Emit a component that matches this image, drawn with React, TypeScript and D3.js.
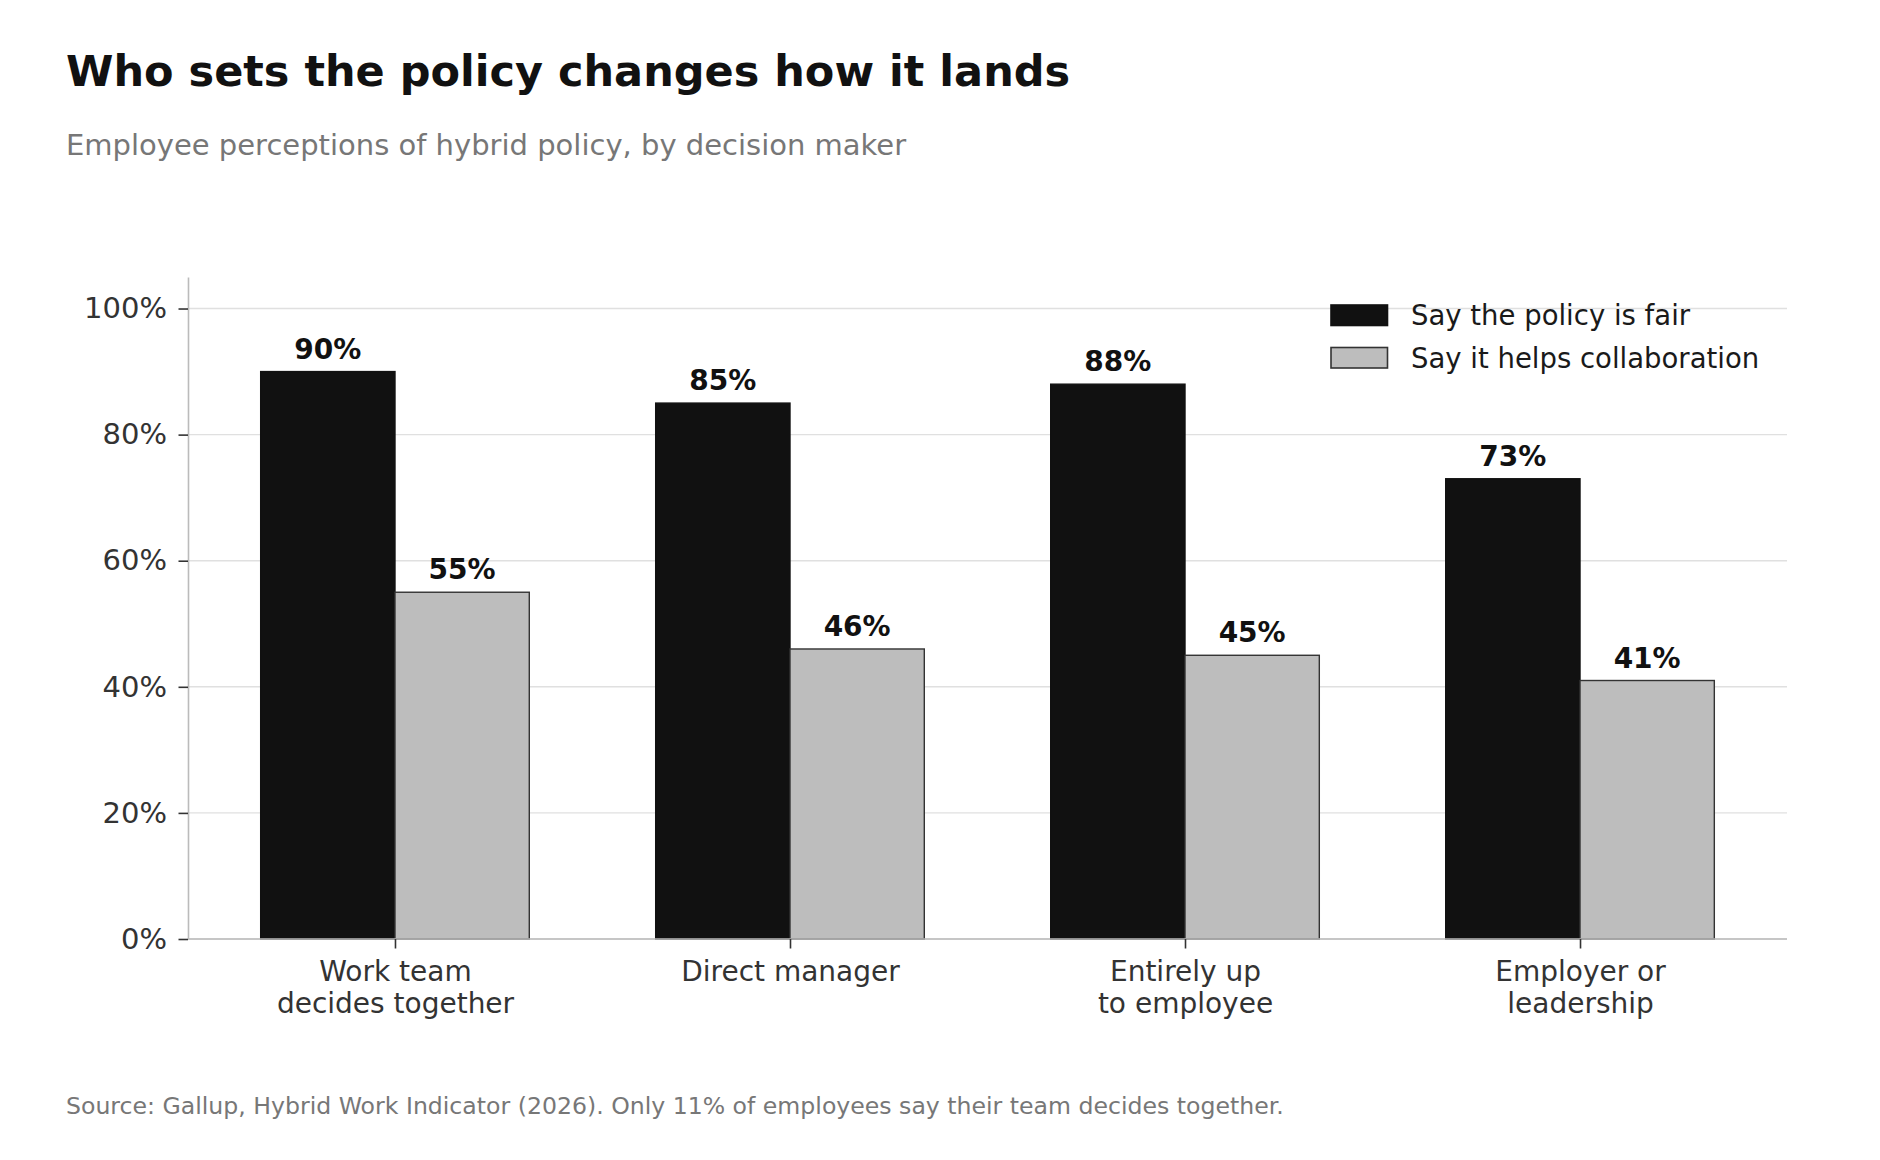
import React, { useEffect, useRef } from 'react';
import * as d3 from 'd3';

// Chart data
const categories = ['Work team\ndecides together', 'Direct manager', 'Entirely up\nto employee', 'Employer or\nleadership'];
const seriesNames = ['Say the policy is fair', 'Say it helps collaboration'];
const fairValues = [90, 85, 88, 73];
const collabValues = [55, 46, 45, 41];
const yTicks = [0, 20, 40, 60, 80, 100];

const W = 1880, H = 1160;
const margin = { top: 277, right: 93, bottom: 221, left: 188 };
const FONT = "'DejaVu Sans', sans-serif";

const App = () => {
  const ref = useRef<SVGSVGElement | null>(null);

  useEffect(() => {
    if (!ref.current) return;
    const svg = d3.select(ref.current);
    svg.selectAll('*').remove();

    const x = d3.scaleBand<number>()
      .domain(categories.map((_, i) => i))
      .range([margin.left, W - margin.right])
      .paddingInner(0.32)
      .paddingOuter(0.184);
    const xs = d3.scaleBand<number>().domain([0, 1]).range([0, x.bandwidth()]);
    const y = d3.scaleLinear().domain([0, 105]).range([H - margin.bottom, margin.top]);

    // title + subtitle
    svg.append('text').attr('x', 66).attr('y', 85.5)
      .attr('font-family', FONT).attr('font-weight', 'bold').attr('font-size', 43).attr('fill', '#111')
      .text('Who sets the policy changes how it lands');
    svg.append('text').attr('x', 66).attr('y', 155)
      .attr('font-family', FONT).attr('font-size', 29).attr('fill', '#777')
      .text('Employee perceptions of hybrid policy, by decision maker');

    // gridlines
    svg.append('g').selectAll('line').data(yTicks).join('line')
      .attr('x1', margin.left).attr('x2', W - margin.right)
      .attr('y1', d => y(d)).attr('y2', d => y(d))
      .attr('stroke', '#e0e0e0').attr('stroke-width', 1.4);

    // bars
    const series = [fairValues, collabValues];
    const fills = ['#111111', '#bdbdbd'];
    series.forEach((vals, s) => {
      svg.append('g').selectAll('rect').data(vals).join('rect')
        .attr('x', (_, i) => x(i)! + xs(s)!)
        .attr('y', d => y(d))
        .attr('width', xs.bandwidth())
        .attr('height', d => y(0) - y(d))
        .attr('fill', fills[s])
        .attr('stroke', s === 0 ? '#111111' : '#333333')
        .attr('stroke-width', 1.4);
      svg.append('g').selectAll('text').data(vals).join('text')
        .attr('x', (_, i) => x(i)! + xs(s)! + xs.bandwidth() / 2)
        .attr('y', d => y(d) - 13)
        .attr('text-anchor', 'middle')
        .attr('font-family', FONT).attr('font-weight', 'bold').attr('font-size', 28).attr('fill', '#111')
        .text(d => `${d}%`);
    });

    // y axis
    const yAxis = svg.append('g').attr('transform', `translate(${margin.left},0)`)
      .call(d3.axisLeft(y).tickValues(yTicks).tickFormat(d => `${d}%`).tickSize(9.5).tickSizeOuter(0).tickPadding(11.5));
    yAxis.select('.domain').attr('stroke', '#bbbbbb').attr('stroke-width', 1.6);
    yAxis.selectAll('.tick line').attr('stroke', '#333').attr('stroke-width', 1.6);
    yAxis.selectAll('.tick text').attr('font-family', FONT).attr('font-size', 29).attr('fill', '#333');

    // x axis
    const xAxis = svg.append('g').attr('transform', `translate(0,${H - margin.bottom})`)
      .call(d3.axisBottom(d3.scalePoint<number>().domain(categories.map((_, i) => i)).range([x(0)! + x.bandwidth() / 2, x(3)! + x.bandwidth() / 2]))
        .tickSize(9.5).tickSizeOuter(0).tickFormat(() => ''));
    xAxis.select('.domain').attr('d', `M${margin.left},0H${W - margin.right}`)
      .attr('stroke', '#bbbbbb').attr('stroke-width', 1.6);
    xAxis.selectAll('.tick line').attr('stroke', '#333').attr('stroke-width', 1.6);
    xAxis.selectAll<SVGTextElement, number>('.tick text').each(function (d) {
      const t = d3.select(this).attr('y', 42).attr('dy', null)
        .attr('font-family', FONT).attr('font-size', 28).attr('fill', '#333');
      categories[d].split('\n').forEach((line, k) => {
        t.append('tspan').attr('x', 0).attr('dy', k === 0 ? 0 : 31.5).text(line);
      });
    });

    // legend
    const legend = svg.append('g').attr('transform', 'translate(1331,305)');
    seriesNames.forEach((name, s) => {
      legend.append('rect').attr('x', 0).attr('y', s * 42.5).attr('width', 56.5).attr('height', 20.5)
        .attr('fill', fills[s]).attr('stroke', s === 0 ? '#111111' : '#333333').attr('stroke-width', 1.6);
      legend.append('text').attr('x', 80).attr('y', s * 42.5 + 20)
        .attr('font-family', FONT).attr('font-size', 27.5).attr('fill', '#1a1a1a').text(name);
    });

    // source
    svg.append('text').attr('x', 66).attr('y', 1114)
      .attr('font-family', FONT).attr('font-size', 23.6).attr('fill', '#777')
      .text('Source: Gallup, Hybrid Work Indicator (2026). Only 11% of employees say their team decides together.');
  }, []);

  return (
    <svg ref={ref} width={W} height={H} viewBox={`0 0 ${W} ${H}`}
      style={{ position: 'absolute', left: 0, top: 0, background: '#fff' }} />
  );
};

export default App;
